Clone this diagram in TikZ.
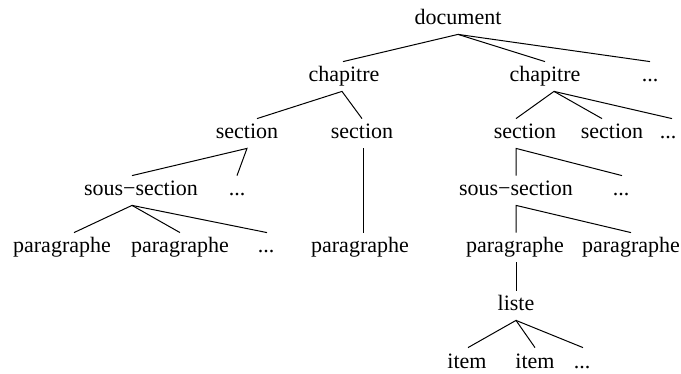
\documentclass[tikz,border=0pt]{standalone}
\usepackage{fontspec}
\setmainfont{Liberation Serif}
\usetikzlibrary{calc}
\begin{document}
\begin{tikzpicture}[x=0.5pt,y=-0.5pt,
  lbl/.style={anchor=base,inner xsep=1pt,inner ysep=2pt,text height=8pt,text depth=2.5pt,font=\fontsize{11}{13}\selectfont},
  edge/.style={line width=0.5pt}]
\useasboundingbox (0,0) rectangle (681,374);
% row 1
\node[lbl] (doc) at (458,25) {document};
% row 2
\node[lbl] (ch1) at (344,82) {chapitre};
\node[lbl] (ch2) at (545,82) {chapitre};
\node[lbl] (dd1) at (650,82) {...};
% row 3
\node[lbl] (s1) at (247,139) {section};
\node[lbl] (s2) at (362,139) {section};
\node[lbl] (s3) at (525,139) {section};
\node[lbl] (s4) at (612,139) {section};
\node[lbl] (dd2) at (668,139) {...};
% row 4
\node[lbl] (ss1) at (141,196) {sous−section};
\node[lbl] (dd3) at (237,196) {...};
\node[lbl] (ss2) at (516,196) {sous−section};
\node[lbl] (dd4) at (621,196) {...};
% row 5
\node[lbl] (p1) at (62,253) {paragraphe};
\node[lbl] (p2) at (180,253) {paragraphe};
\node[lbl] (dd5) at (266,253) {...};
\node[lbl] (p3) at (360,253) {paragraphe};
\node[lbl] (p4) at (515,253) {paragraphe};
\node[lbl] (p5) at (631,253) {paragraphe};
% row 6
\node[lbl] (li) at (516,311) {liste};
% row 7
\node[lbl] (it1) at (467,368) {item};
\node[lbl] (it2) at (535,368) {item};
\node[lbl] (dd6) at (582,368) {...};
% edges
\draw[edge] ($(ch1.north)+(-1,0)$) -- (doc.south) -- (ch2.north);
\draw[edge] (doc.south) -- (dd1.north);
\draw[edge] ($(s1.north)+(10,0)$) -- ($(ch1.south)+(-2,0)$) -- (s2.north);
\draw[edge] ($(s3.north)+(-9,0)$) -- ($(ch2.south)+(9,0)$) -- ($(s4.north)+(-10,0)$);
\draw[edge] ($(ch2.south)+(9,0)$) -- ($(dd2.north)+(4,0)$);
\draw[edge] ($(ss1.north)+(-9,0)$) -- (s1.south) -- (dd3.north);
\draw[edge] ($(s2.south)+(1,0)$) -- ($(p3.north)+(3,0)$);
\draw[edge] (ss2.north) -- ($(s3.south)+(-9,0)$) -- ($(dd4.north)+(1,0)$);
\draw[edge] ($(p1.north)+(12,0)$) -- ($(ss1.south)+(-9,0)$) -- (p2.north);
\draw[edge] ($(ss1.south)+(-9,0)$) -- ($(dd5.north)+(1,0)$);
\draw[edge] ($(p4.north)+(1,0)$) -- (ss2.south) -- (p5.north);
\draw[edge] ($(p4.south)+(1,0)$) -- (li.north);
\draw[edge] ($(it1.north)+(1,0)$) -- (li.south) -- (it2.north);
\draw[edge] (li.south) -- ($(dd6.north)+(1,0)$);
\end{tikzpicture}
\end{document}
